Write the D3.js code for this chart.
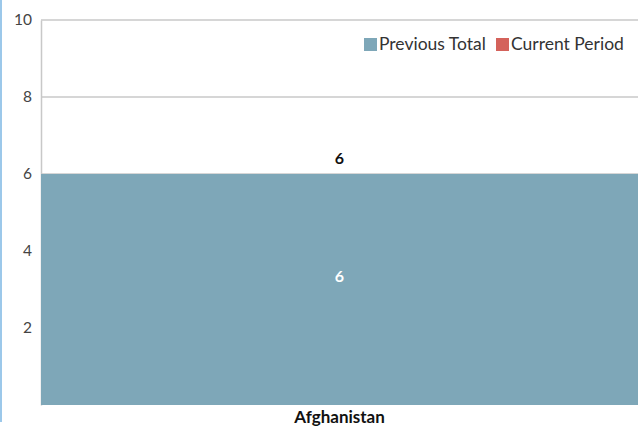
<!DOCTYPE html>
<html>
<head>
<meta charset="utf-8">
<script src="https://cdn.jsdelivr.net/npm/d3@7"></script>
<style>
  html, body { margin: 0; padding: 0; background: #fff; }
  svg { display: block; font-family: "Lato", "Open Sans", sans-serif; }
</style>
</head>
<body>
<svg id="chart" width="641" height="427"></svg>
<script>
const categories = ["Afghanistan"];
const seriesNames = ["Previous Total", "Current Period"];
const previousTotal = [6];
const currentPeriod = [0];
const yTicks = [2, 4, 6, 8, 10];
const colors = ["#7ea7b8", "#d4625b"];

const svg = d3.select("#chart");
const W = 641, H = 427;
const margin = { top: 20, right: 3, bottom: 22, left: 41 };
const innerW = W - margin.left - margin.right;
const innerH = H - margin.top - margin.bottom;

// left accent line
svg.append("rect").attr("x", 0).attr("y", 0).attr("width", 2).attr("height", 422).attr("fill", "#9cc8ea");

const g = svg.append("g").attr("transform", `translate(${margin.left},${margin.top})`);

const x = d3.scaleBand().domain(categories).range([0, innerW]).padding(0);
const y = d3.scaleLinear().domain([0, 10]).range([innerH, 0]);

// gridlines
g.append("g").selectAll("line").data(yTicks).join("line")
  .attr("x1", 0).attr("x2", innerW)
  .attr("y1", d => y(d)).attr("y2", d => y(d))
  .attr("stroke", "#c8c8c8").attr("stroke-width", 1.5);

// y axis
const yAxis = g.append("g").call(d3.axisLeft(y).tickValues(yTicks).tickSize(0).tickPadding(9));
yAxis.select(".domain").attr("stroke", "#c8c8c8").attr("stroke-width", 1.5);
yAxis.selectAll("text").attr("font-size", 15.5).attr("fill", "#444").attr("font-family", "Lato, sans-serif");

// stacked bars
const data = categories.map((c, i) => ({ cat: c, prev: previousTotal[i], cur: currentPeriod[i] }));
const stack = d3.stack().keys(["prev", "cur"])(data);

g.append("g").selectAll("g").data(stack).join("g")
  .attr("fill", (d, i) => colors[i])
  .selectAll("rect").data(d => d).join("rect")
  .attr("x", d => x(d.data.cat))
  .attr("width", x.bandwidth())
  .attr("y", d => y(d[1]))
  .attr("height", d => y(d[0]) - y(d[1]));

// inner label
g.selectAll(".inlab").data(data).join("text")
  .attr("class", "inlab")
  .attr("x", d => x(d.cat) + x.bandwidth() / 2)
  .attr("y", d => y(d.prev) + (y(0) - y(d.prev)) / 2 - 12)
  .attr("text-anchor", "middle").attr("dominant-baseline", "middle")
  .attr("font-size", 16).attr("font-weight", "bold").attr("fill", "#fff")
  .text(d => d.prev);

// total label
g.selectAll(".totlab").data(data).join("text")
  .attr("class", "totlab")
  .attr("x", d => x(d.cat) + x.bandwidth() / 2)
  .attr("y", d => y(d.prev + d.cur) - 14)
  .attr("text-anchor", "middle").attr("dominant-baseline", "middle")
  .attr("font-size", 16).attr("font-weight", "bold").attr("fill", "#111")
  .text(d => d.prev + d.cur);

// x axis labels
const xAxis = g.append("g").attr("transform", `translate(0,${innerH})`)
  .call(d3.axisBottom(x).tickSize(0).tickPadding(6));
xAxis.select(".domain").remove();
xAxis.selectAll("text").attr("font-size", 17).attr("font-weight", "bold").attr("fill", "#111")
  .attr("font-family", "Lato, sans-serif");

// legend
const legend = svg.append("g").attr("transform", "translate(364,38)");
const legendX = [0, 132];
seriesNames.forEach((name, i) => {
  const lg = legend.append("g").attr("transform", `translate(${legendX[i]},0)`);
  lg.append("rect").attr("width", 13).attr("height", 13).attr("fill", colors[i]);
  lg.append("text").attr("x", 15).attr("y", 7.5).attr("dominant-baseline", "middle")
    .attr("font-size", 17.5).attr("fill", "#333").text(name);
});
</script>
</body>
</html>
